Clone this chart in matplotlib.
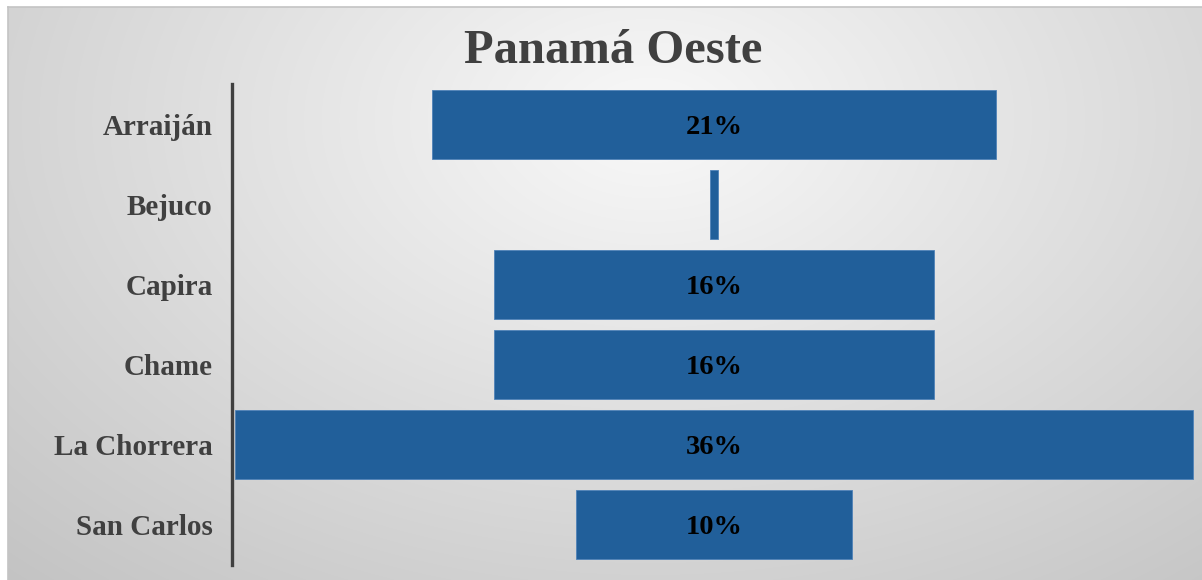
import numpy as np
import matplotlib.pyplot as plt

# Datos del embudo (porcentaje por distrito)
distritos = ['Arraiján', 'Bejuco', 'Capira', 'Chame', 'La Chorrera', 'San Carlos']
porcentajes = [21.2, 0.3, 16.5, 16.5, 36.0, 10.4]
etiquetas = ['21%', '', '16%', '16%', '36%', '10%']

plt.rcParams['font.family'] = ['Liberation Serif', 'DejaVu Serif']

fig = plt.figure(figsize=(12.02, 5.8), dpi=100)
fig.patch.set_facecolor('white')

# Fondo con degradado radial (blanco arriba al centro, gris en los bordes)
ax_bg = fig.add_axes([8 / 1202, 0, 1194 / 1202, 573 / 580])
h, w = 573, 1194
yy, xx = np.mgrid[0:h, 0:w]
d = np.sqrt(((xx - 642) / 900.0) ** 2 + ((yy - 113) / 600.0) ** 2)
tono = np.clip(0.975 - 0.2 * d, 0, 1)
ax_bg.imshow(np.dstack([tono, tono, tono]), aspect='auto', interpolation='bilinear')
ax_bg.set_xticks([])
ax_bg.set_yticks([])
for lado in ['right', 'bottom']:
    ax_bg.spines[lado].set_visible(False)
for lado in ['top', 'left']:
    ax_bg.spines[lado].set_color('#c4c4c4')
    ax_bg.spines[lado].set_linewidth(1.2)

# Grafico de embudo: barras centradas
ax = fig.add_axes([232 / 1202, 15 / 580, 964 / 1202, 481 / 580])
ax.patch.set_alpha(0)
y = np.arange(len(distritos))
vals = np.array(porcentajes)
ax.barh(y, vals, left=-vals / 2, height=0.86, color='#215F9A',
        edgecolor='#4f82b8', linewidth=0.6)

for yi, txt in zip(y, etiquetas):
    if txt:
        ax.text(0, yi, txt, ha='center', va='center_baseline', fontsize=20.5,
                fontweight='bold', color='black')

mitad = vals.max() / 2 * 964 / 958
ax.set_xlim(-mitad, mitad)
ax.set_ylim(len(distritos) - 0.5, -0.5)
ax.set_yticks(y)
ax.set_yticklabels(distritos, fontsize=21, fontweight='bold', color='#404040')
ax.tick_params(axis='y', length=0, pad=14)
ax.set_xticks([])
for lado in ['top', 'right', 'bottom']:
    ax.spines[lado].set_visible(False)
ax.spines['left'].set_color('#404040')
ax.spines['left'].set_linewidth(2.4)

fig.text(613 / 1202, 1 - 51 / 580, 'Panamá Oeste', ha='center', va='center',
         fontsize=35, fontweight='bold', color='#404040')

fig.savefig('out.png', dpi=100)
